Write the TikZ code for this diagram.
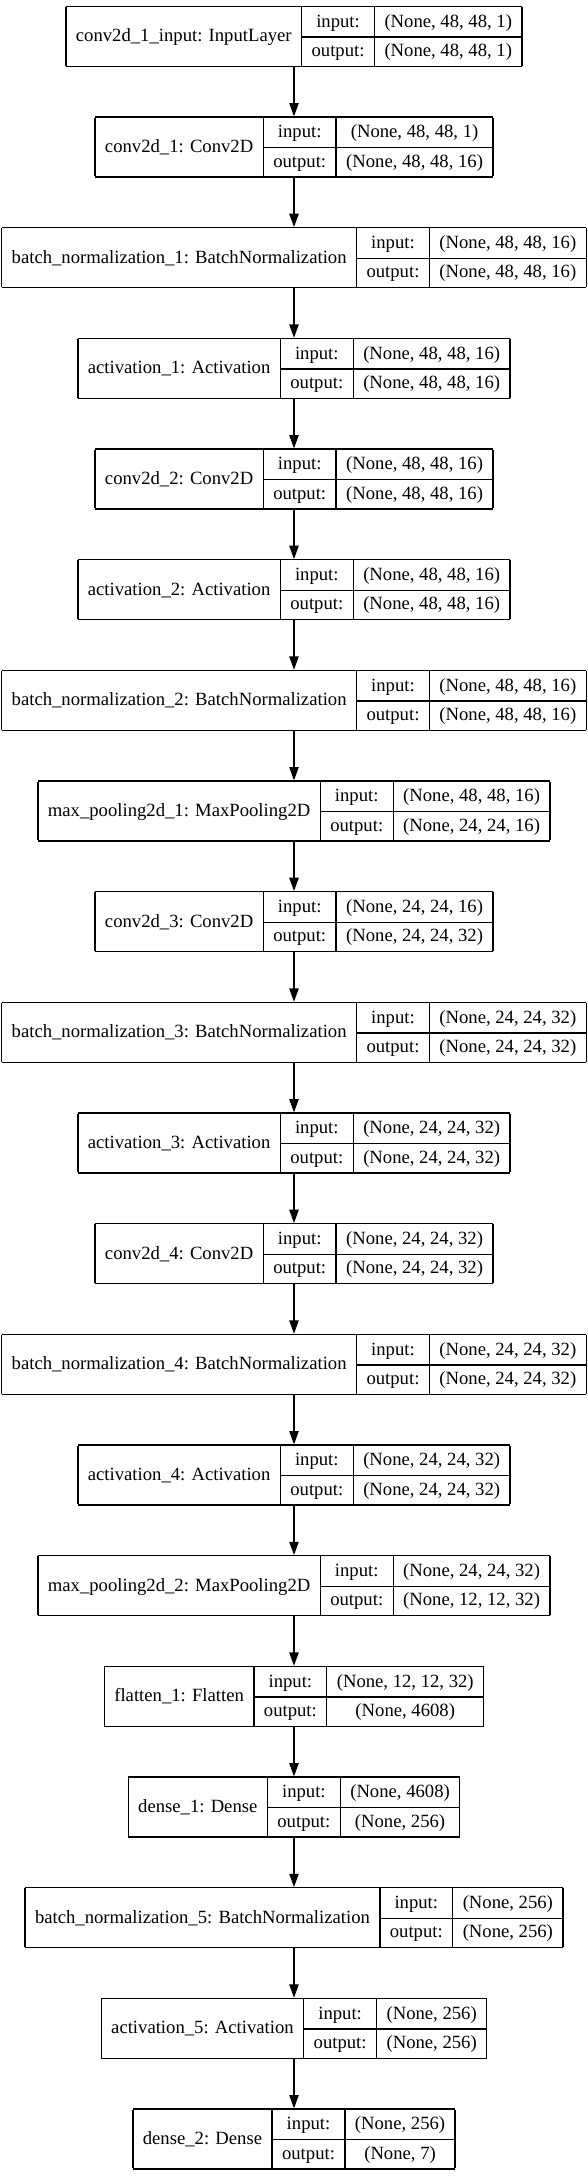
\documentclass[tikz,border=0pt]{standalone}
\usepackage{fontspec}
\setmainfont{Liberation Serif}
\usetikzlibrary{positioning,arrows.meta}

\setlength{\arrayrulewidth}{1pt}
\setlength{\tabcolsep}{7.5pt}
\newcommand{\rowstrut}{\rule[-7pt]{0pt}{22pt}}
\newcommand{\layer}[3]{\begin{tabular}{|c|c|c|}\hline
	\raisebox{-11pt}[0pt][0pt]{#1} & \rowstrut input: & #2\\ \cline{2-3}
	& \rowstrut output: & #3\\ \hline\end{tabular}}

\begin{document}
\begin{tikzpicture}[rec/.style={inner sep=0pt,outer sep=0pt,font=\fontsize{14pt}{17pt}\selectfont},
						link/.style={line width=1pt,-{Triangle[length=10pt,width=7pt]}},
						node distance=37pt]
		\useasboundingbox (0,0) rectangle (441pt,-1632pt);

		\node[rec] at (220.5pt,-27.3pt)	(0)	{\layer{conv2d\_1\_input: InputLayer}{(None, 48, 48, 1)}{(None, 48, 48, 1)}};
		\node[rec,below=of 0]	(1)	{\layer{conv2d\_1: Conv2D}{(None, 48, 48, 1)}{(None, 48, 48, 16)}};
		\node[rec,below=of 1]	(2)	{\layer{batch\_normalization\_1: BatchNormalization}{(None, 48, 48, 16)}{(None, 48, 48, 16)}};
		\node[rec,below=of 2]	(3)	{\layer{activation\_1: Activation}{(None, 48, 48, 16)}{(None, 48, 48, 16)}};
		\node[rec,below=of 3]	(4)	{\layer{conv2d\_2: Conv2D}{(None, 48, 48, 16)}{(None, 48, 48, 16)}};
		\node[rec,below=of 4]	(5)	{\layer{activation\_2: Activation}{(None, 48, 48, 16)}{(None, 48, 48, 16)}};
		\node[rec,below=of 5]	(6)	{\layer{batch\_normalization\_2: BatchNormalization}{(None, 48, 48, 16)}{(None, 48, 48, 16)}};
		\node[rec,below=of 6]	(7)	{\layer{max\_pooling2d\_1: MaxPooling2D}{(None, 48, 48, 16)}{(None, 24, 24, 16)}};
		\node[rec,below=of 7]	(8)	{\layer{conv2d\_3: Conv2D}{(None, 24, 24, 16)}{(None, 24, 24, 32)}};
		\node[rec,below=of 8]	(9)	{\layer{batch\_normalization\_3: BatchNormalization}{(None, 24, 24, 32)}{(None, 24, 24, 32)}};
		\node[rec,below=of 9]	(10)	{\layer{activation\_3: Activation}{(None, 24, 24, 32)}{(None, 24, 24, 32)}};
		\node[rec,below=of 10]	(11)	{\layer{conv2d\_4: Conv2D}{(None, 24, 24, 32)}{(None, 24, 24, 32)}};
		\node[rec,below=of 11]	(12)	{\layer{batch\_normalization\_4: BatchNormalization}{(None, 24, 24, 32)}{(None, 24, 24, 32)}};
		\node[rec,below=of 12]	(13)	{\layer{activation\_4: Activation}{(None, 24, 24, 32)}{(None, 24, 24, 32)}};
		\node[rec,below=of 13]	(14)	{\layer{max\_pooling2d\_2: MaxPooling2D}{(None, 24, 24, 32)}{(None, 12, 12, 32)}};
		\node[rec,below=of 14]	(15)	{\layer{flatten\_1: Flatten}{(None, 12, 12, 32)}{(None, 4608)}};
		\node[rec,below=of 15]	(16)	{\layer{dense\_1: Dense}{(None, 4608)}{(None, 256)}};
		\node[rec,below=of 16]	(17)	{\layer{batch\_normalization\_5: BatchNormalization}{(None, 256)}{(None, 256)}};
		\node[rec,below=of 17]	(18)	{\layer{activation\_5: Activation}{(None, 256)}{(None, 256)}};
		\node[rec,below=of 18]	(19)	{\layer{dense\_2: Dense}{(None, 256)}{(None, 7)}};

		\foreach \i [count=\j] in {0,...,18}
			\draw[link] (\i) -- (\j);
	\end{tikzpicture}
\end{document}
